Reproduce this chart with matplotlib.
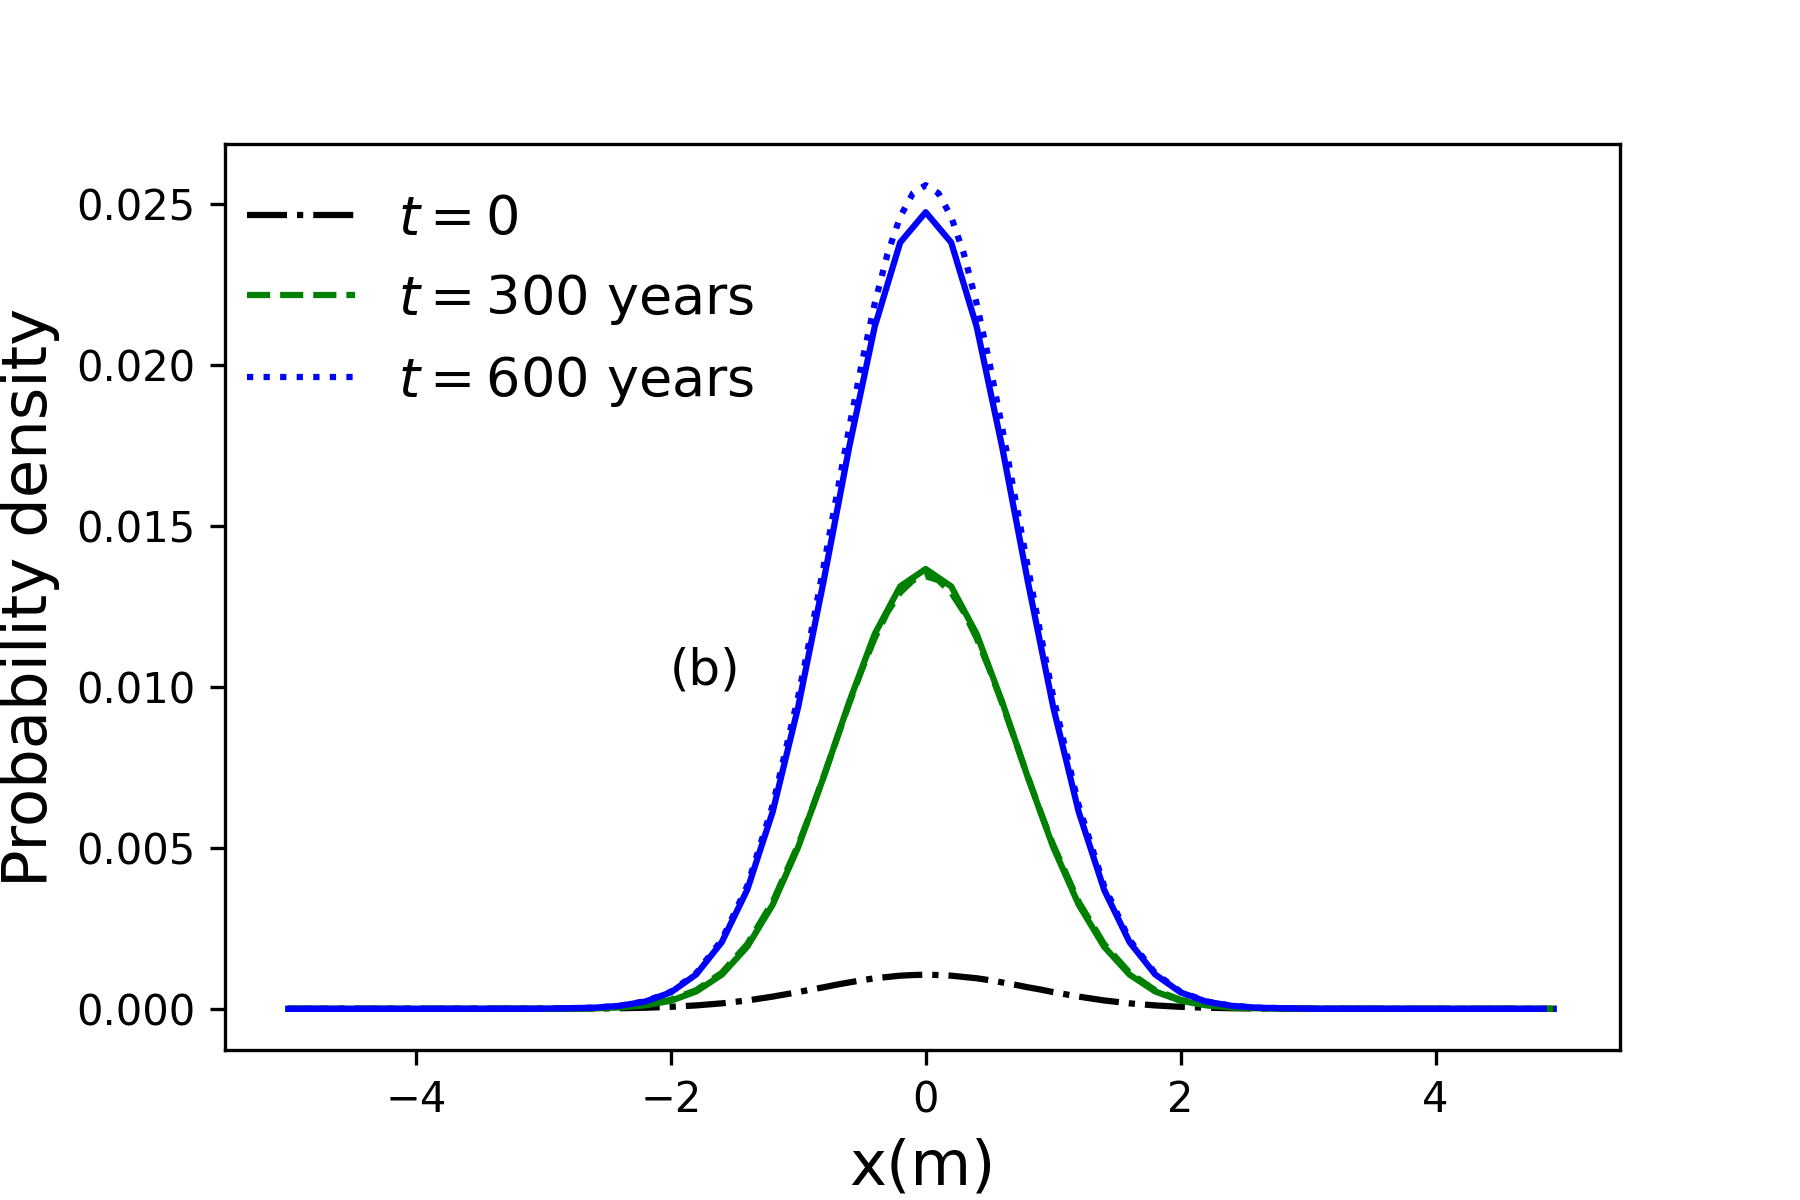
import matplotlib
matplotlib.use("Agg")
import matplotlib.pyplot as plt
import numpy as np

# sample positions (m)
x_fine = [-5.0, -4.0, -3.0,
          -2.6, -2.4, -2.2, -2.0, -1.8, -1.6, -1.4, -1.2,
          -1.0, -0.9, -0.8, -0.7, -0.6, -0.5, -0.4, -0.3, -0.2, -0.1,
          0.0,
          0.1, 0.2, 0.3, 0.4, 0.5, 0.6, 0.7, 0.8, 0.9, 1.0,
          1.2, 1.4, 1.6, 1.8, 2.0, 2.2, 2.4, 2.6,
          3.0, 4.0, 4.95]

x_blue_solid = [-5.0, -4.0, -3.0,
                -2.6, -2.4, -2.2, -2.0, -1.8, -1.6, -1.4, -1.2, -1.0, -0.8, -0.6, -0.4, -0.2,
                0.0,
                0.2, 0.4, 0.6, 0.8, 1.0, 1.2, 1.4, 1.6, 1.8, 2.0, 2.2, 2.4, 2.6,
                3.0, 4.0, 4.85]

x_green_solid = [-5.0, -4.0, -3.0,
                 -2.6, -2.4, -2.2, -2.0, -1.8, -1.6, -1.4, -1.2, -1.0, -0.8, -0.6, -0.4, -0.2,
                 0.0,
                 0.2, 0.4, 0.6, 0.8, 1.0, 1.2, 1.4, 1.6, 1.8, 2.0, 2.2, 2.4, 2.6,
                 3.0, 4.0, 4.9]

# densities (units of 1e-3)
p_t0 = [0, 0, 0.002,
        0.009, 0.018, 0.034, 0.062, 0.106, 0.17, 0.26, 0.38,
        0.52, 0.60, 0.67, 0.75, 0.82, 0.89, 0.95, 0.99, 1.03, 1.05,
        1.06,
        1.05, 1.03, 0.99, 0.95, 0.89, 0.82, 0.75, 0.67, 0.60, 0.52,
        0.38, 0.26, 0.17, 0.106, 0.062, 0.034, 0.018, 0.009,
        0.002, 0, 0]

p_t300 = [0, 0, 0.002,
          0.019, 0.050, 0.123, 0.28, 0.58, 1.12, 2.01, 3.33,
          5.10, 6.13, 7.23, 8.36, 9.49, 10.55, 11.52, 12.33, 12.94, 13.32,
          13.45,
          13.32, 12.94, 12.33, 11.52, 10.55, 9.49, 8.36, 7.23, 6.13, 5.10,
          3.33, 2.01, 1.12, 0.58, 0.28, 0.123, 0.050, 0.019,
          0.002, 0, 0]

p_t600 = [0, 0, 0.004,
          0.036, 0.096, 0.234, 0.53, 1.11, 2.14, 3.82, 6.33,
          9.71, 11.67, 13.76, 15.92, 18.06, 20.09, 21.92, 23.46, 24.62, 25.35,
          25.60,
          25.35, 24.62, 23.46, 21.92, 20.09, 18.06, 15.92, 13.76, 11.67, 9.71,
          6.33, 3.82, 2.14, 1.11, 0.53, 0.234, 0.096, 0.036,
          0.004, 0, 0]

p_green_solid = [0, 0, 0.0017,
                 0.016, 0.043, 0.108, 0.25, 0.54, 1.06, 1.93, 3.24, 5.03, 7.21, 9.54, 11.65, 13.13,
                 13.67,
                 13.13, 11.65, 9.54, 7.21, 5.03, 3.24, 1.93, 1.06, 0.54, 0.25, 0.108, 0.043, 0.016,
                 0.0017, 0, 0]

p_blue_solid = [0, 0, 0.004,
                0.035, 0.093, 0.226, 0.51, 1.07, 2.07, 3.70, 6.13, 9.39, 13.31, 17.46, 21.20, 23.82,
                24.76,
                23.82, 21.20, 17.46, 13.31, 9.39, 6.13, 3.70, 2.07, 1.07, 0.51, 0.226, 0.093, 0.035,
                0.004, 0, 0]

labels = [r'$t=0$', r'$t=300$ years', r'$t=600$ years']

scale = 1e-3

fig, ax = plt.subplots(figsize=(6, 4), dpi=300)
fig.subplots_adjust(left=0.125, right=0.9, top=0.88, bottom=0.125)

ax.plot(x_fine, np.array(p_t0) * scale, 'k-.', lw=1.5, label=labels[0])
ax.plot(x_fine, np.array(p_t300) * scale, 'g--', lw=1.5, label=labels[1])
ax.plot(x_fine, np.array(p_t600) * scale, 'b:', lw=1.5, label=labels[2])
ax.plot(x_green_solid, np.array(p_green_solid) * scale, 'g-', lw=1.5)
ax.plot(x_blue_solid, np.array(p_blue_solid) * scale, 'b-', lw=1.5)

ax.text(-1.73, 0.0105, '(b)', fontsize=12, ha='center', va='center')

ax.set_xlabel('x(m)', fontsize=15)
ax.set_ylabel('Probability density', fontsize=15)
ax.legend(loc='upper left', bbox_to_anchor=(0.0, 0.97), borderaxespad=0,
          frameon=False, fontsize=13)

fig.savefig('out.png', dpi=300)
